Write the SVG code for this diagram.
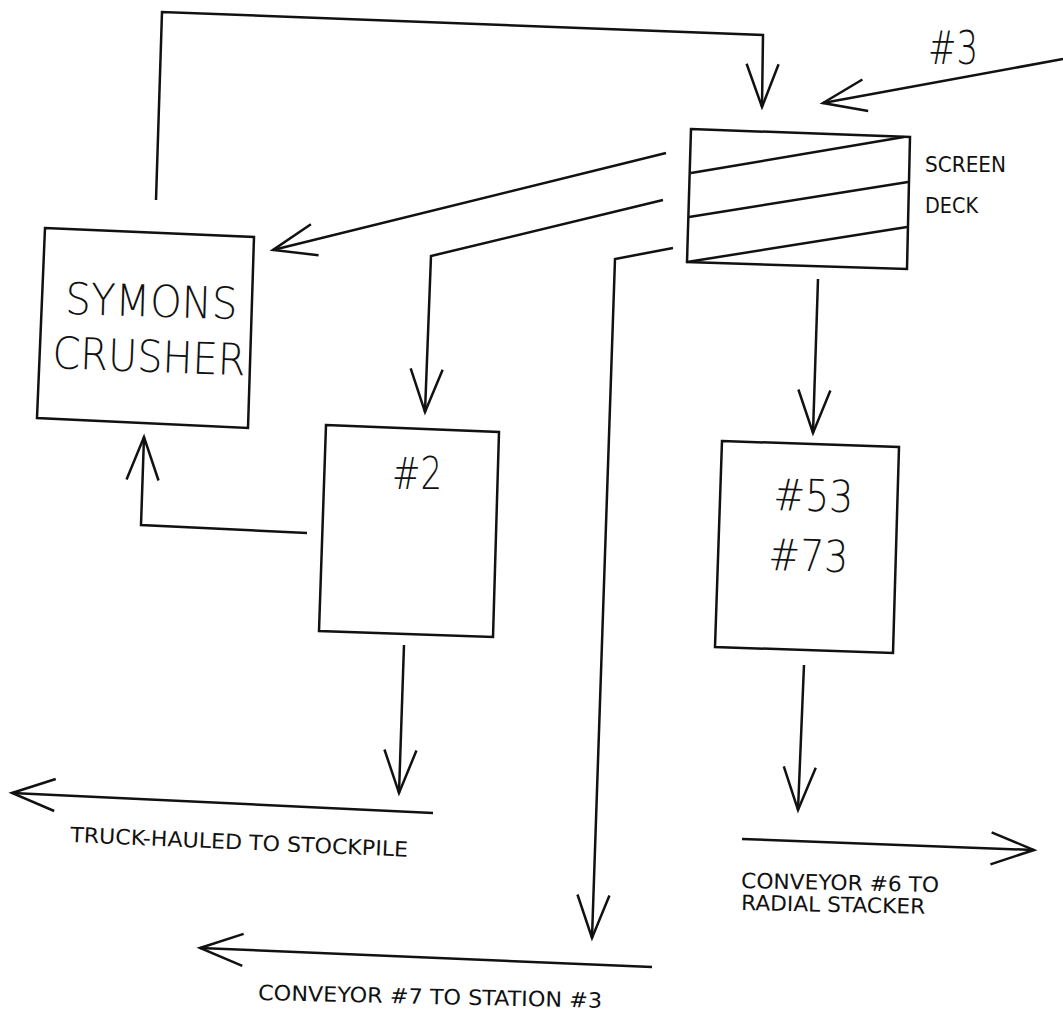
<svg xmlns="http://www.w3.org/2000/svg" width="1063" height="1017" viewBox="0 0 1063 1017">
<style>
.box{fill:none;stroke:#111;stroke-width:2.5;stroke-linejoin:miter}
.ln{fill:none;stroke:#111;stroke-width:2.5;stroke-linejoin:miter}
.big{font-family:"DejaVu Sans","Liberation Sans",sans-serif;font-weight:200;font-size:44px;fill:#111}
.sm{font-family:"DejaVu Sans","Liberation Sans",sans-serif;font-weight:400;font-size:21px;fill:#111}
</style>
<defs>
<marker id="v" markerUnits="userSpaceOnUse" markerWidth="60" markerHeight="60" viewBox="-50 -30 60 60" refX="0" refY="0" orient="auto" overflow="visible">
<path d="M-43,-16 L0,0 L-43,16" fill="none" stroke="#111" stroke-width="2.5"/>
</marker>
</defs>
<rect width="1063" height="1017" fill="#fff"/>

<g id="crusher">
<polygon class="box" points="45,228 254,237 248,428 37,418"/>
<text class="big" x="65" y="314" textLength="172" lengthAdjust="spacingAndGlyphs" transform="rotate(1.7 65 314)">SYMONS</text>
<text class="big" x="52" y="368" textLength="193" lengthAdjust="spacingAndGlyphs" transform="rotate(2.2 52 368)">CRUSHER</text>
</g>

<g id="screen-deck">
<polygon class="box" points="691,129 910,137 907,269 687,262"/>
<line class="ln" x1="691" y1="173" x2="904" y2="137"/>
<line class="ln" x1="689" y1="217" x2="908" y2="182"/>
<line class="ln" x1="687" y1="262" x2="907" y2="227"/>
<text class="sm" x="925" y="172" textLength="81" lengthAdjust="spacingAndGlyphs" style="font-size:22px">SCREEN</text>
<text class="sm" x="925" y="213" textLength="53" lengthAdjust="spacingAndGlyphs" style="font-size:22px">DECK</text>
</g>

<g id="bin-2">
<polygon class="box" points="326,425 499,432 493,637 319,631"/>
<text class="big" x="392" y="489" textLength="50" lengthAdjust="spacingAndGlyphs">#2</text>
</g>

<g id="bin-53-73">
<polygon class="box" points="722,441 899,447 893,653 715,647"/>
<text class="big" x="773" y="510" textLength="80" lengthAdjust="spacingAndGlyphs" transform="rotate(1.5 773 510)">#53</text>
<text class="big" x="768" y="570" textLength="80" lengthAdjust="spacingAndGlyphs" transform="rotate(1.5 768 570)">#73</text>
</g>

<g id="connectors">
<polyline class="ln" points="156,200 162,12 763,35 762,107" marker-end="url(#v)"/>
<line class="ln" x1="1063" y1="59" x2="823" y2="103" marker-end="url(#v)"/>
<line class="ln" x1="666" y1="153" x2="273" y2="250" marker-end="url(#v)"/>
<polyline class="ln" points="663,200 431,256 425,412" marker-end="url(#v)"/>
<polyline class="ln" points="673,248 615,259 592,938" marker-end="url(#v)"/>
<line class="ln" x1="818" y1="279" x2="813" y2="433" marker-end="url(#v)"/>
<polyline class="ln" points="307,533 141,525 144,437" marker-end="url(#v)"/>
<line class="ln" x1="404" y1="645" x2="399" y2="793" marker-end="url(#v)"/>
<line class="ln" x1="433" y1="813" x2="12" y2="793" marker-end="url(#v)"/>
<line class="ln" x1="804" y1="665" x2="798" y2="810" marker-end="url(#v)"/>
<line class="ln" x1="742" y1="839" x2="1034" y2="850" marker-end="url(#v)"/>
<line class="ln" x1="652" y1="967" x2="200" y2="948" marker-end="url(#v)"/>
</g>

<g id="labels">
<text class="big" x="928" y="64" textLength="50" lengthAdjust="spacingAndGlyphs" style="font-size:46px">#3</text>
<text class="sm" x="70" y="842" textLength="338" lengthAdjust="spacingAndGlyphs" transform="rotate(2.5 70 842)">TRUCK-HAULED TO STOCKPILE</text>
<text class="sm" x="741" y="888" textLength="198" lengthAdjust="spacingAndGlyphs" transform="rotate(1.2 741 888)">CONVEYOR #6 TO</text>
<text class="sm" x="741" y="910" textLength="184" lengthAdjust="spacingAndGlyphs" transform="rotate(1.2 741 910)">RADIAL STACKER</text>
<text class="sm" x="258" y="1000" textLength="344" lengthAdjust="spacingAndGlyphs" transform="rotate(1.3 258 1000)">CONVEYOR #7 TO STATION #3</text>
</g>
</svg>
